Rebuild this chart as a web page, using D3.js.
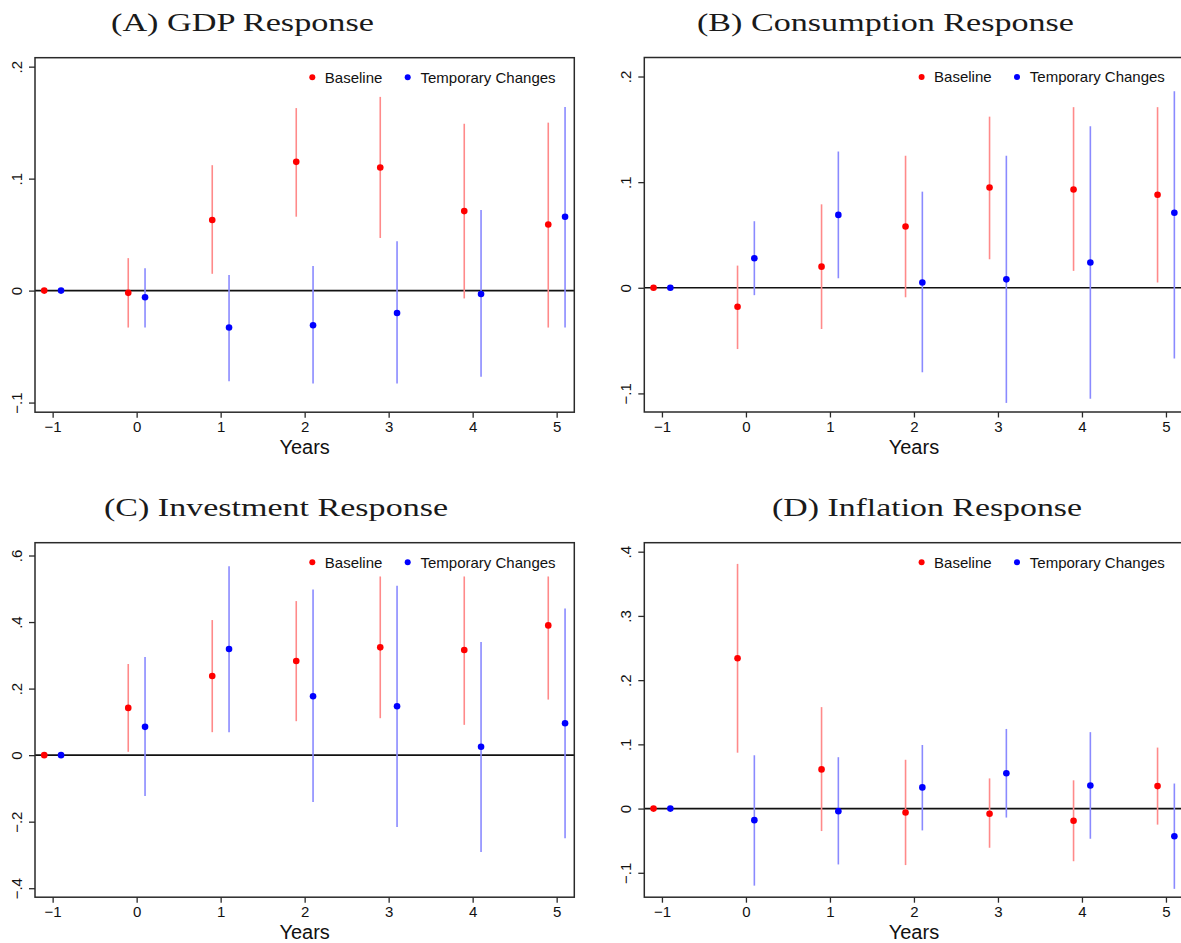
<!DOCTYPE html>
<html>
<head>
<meta charset="utf-8">
<script src="https://cdn.jsdelivr.net/npm/d3@7"></script>
<style>
  body { margin: 0; background: #fff; }
  svg { display: block; }
  text { font-family: "Liberation Sans", Arial, Helvetica, sans-serif; fill: #111; }
  .title { font-family: "Liberation Serif", "Times New Roman", serif; font-size: 26px; fill: #1a1a1a; }
</style>
</head>
<body>
<div id="wrapper"></div>
<script>
// each point is [estimate, lower, upper]
const years = [-1, 0, 1, 2, 3, 4, 5]
const seriesNames = ["Baseline", "Temporary Changes"]
const panelTitles = ["(A) GDP Response", "(B) Consumption Response", "(C) Investment Response", "(D) Inflation Response"]

const gdpBaseline = [[0, 0, 0], [-0.002, -0.033, 0.029], [0.063, 0.015, 0.112], [0.115, 0.066, 0.163], [0.110, 0.047, 0.173], [0.071, -0.007, 0.149], [0.059, -0.033, 0.150]]
const gdpTemporary = [[0, 0, 0], [-0.006, -0.033, 0.020], [-0.033, -0.081, 0.014], [-0.031, -0.083, 0.022], [-0.020, -0.083, 0.044], [-0.003, -0.077, 0.072], [0.066, -0.033, 0.164]]

const consBaseline = [[0, 0, 0], [-0.018, -0.058, 0.021], [0.020, -0.039, 0.079], [0.058, -0.009, 0.125], [0.095, 0.027, 0.162], [0.093, 0.016, 0.171], [0.088, 0.005, 0.171]]
const consTemporary = [[0, 0, 0], [0.028, -0.007, 0.063], [0.069, 0.009, 0.129], [0.005, -0.080, 0.091], [0.008, -0.109, 0.125], [0.024, -0.105, 0.153], [0.071, -0.067, 0.186]]

const invBaseline = [[0, 0, 0], [0.142, 0.010, 0.274], [0.238, 0.069, 0.406], [0.283, 0.102, 0.463], [0.324, 0.111, 0.537], [0.316, 0.091, 0.537], [0.390, 0.167, 0.537]]
const invTemporary = [[0, 0, 0], [0.085, -0.123, 0.295], [0.319, 0.069, 0.568], [0.177, -0.141, 0.498], [0.147, -0.216, 0.509], [0.025, -0.291, 0.340], [0.096, -0.250, 0.441]]

const inflBaseline = [[0, 0, 0], [0.234, 0.087, 0.381], [0.061, -0.035, 0.158], [-0.006, -0.088, 0.076], [-0.008, -0.061, 0.047], [-0.019, -0.082, 0.044], [0.035, -0.025, 0.095]]
const inflTemporary = [[0, 0, 0], [-0.018, -0.120, 0.083], [-0.004, -0.087, 0.080], [0.033, -0.034, 0.099], [0.055, -0.014, 0.124], [0.036, -0.047, 0.119], [-0.043, -0.125, 0.039]]

const gdpTicks = [-0.1, 0, 0.1, 0.2]
const consTicks = [-0.1, 0, 0.1, 0.2]
const invTicks = [-0.4, -0.2, 0, 0.2, 0.4, 0.6]
const inflTicks = [-0.1, 0, 0.1, 0.2, 0.3, 0.4]

const gdpRange = [-0.1086, 0.208]
const consRange = [-0.1176, 0.218]
const invRange = [-0.427, 0.6385]
const inflRange = [-0.138, 0.414]

function drawChart() {
  const width = 1181
  const height = 943
  const frame = { width: 539.3, height: 354.5 }
  const offset = 0.1  // horizontal dodge of the two series

  const panels = [
    { title: panelTitles[0], base: gdpBaseline, temp: gdpTemporary, ticks: gdpTicks, range: gdpRange,
      left: 35, top: 57.7, titleX: 111, titleY: 31, titleW: 263 },
    { title: panelTitles[1], base: consBaseline, temp: consTemporary, ticks: consTicks, range: consRange,
      left: 644.3, top: 57.5, titleX: 697, titleY: 31, titleW: 377 },
    { title: panelTitles[2], base: invBaseline, temp: invTemporary, ticks: invTicks, range: invRange,
      left: 35, top: 542.7, titleX: 104, titleY: 516, titleW: 344 },
    { title: panelTitles[3], base: inflBaseline, temp: inflTemporary, ticks: inflTicks, range: inflRange,
      left: 644.3, top: 542.7, titleX: 772, titleY: 516, titleW: 310 },
  ]

  const colors = { base: "#ff0000", temp: "#0000ff", baseCi: "#ff8a8a", tempCi: "#8a8aff" }
  const fmtTick = d => d === 0 ? "0" : d3.format(".1f")(d).replace("0.", ".")

  const svg = d3.select("#wrapper")
    .append("svg")
      .attr("width", width)
      .attr("height", height)

  panels.forEach(p => {
    const xScale = d3.scaleLinear()
      .domain([-1.21, 5.21])
      .range([0, frame.width])
    const yScale = d3.scaleLinear()
      .domain(p.range)
      .range([frame.height, 0])

    // title
    svg.append("text")
      .attr("class", "title")
      .attr("x", p.titleX)
      .attr("y", p.titleY)
      .attr("textLength", p.titleW)
      .attr("lengthAdjust", "spacingAndGlyphs")
      .text(p.title)

    const g = svg.append("g")
      .attr("transform", `translate(${p.left},${p.top})`)

    // zero line
    g.append("line")
      .attr("x1", 0).attr("x2", frame.width)
      .attr("y1", yScale(0)).attr("y2", yScale(0))
      .attr("stroke", "#111")
      .attr("stroke-width", 1.6)

    // confidence intervals + points
    const series = [
      { data: p.base, dx: -offset, ci: colors.baseCi, dot: colors.base },
      { data: p.temp, dx: offset, ci: colors.tempCi, dot: colors.temp },
    ]
    series.forEach(s => {
      g.selectAll(null)
        .data(s.data)
        .join("line")
          .attr("x1", (d, i) => xScale(years[i] + s.dx))
          .attr("x2", (d, i) => xScale(years[i] + s.dx))
          .attr("y1", d => yScale(d[1]))
          .attr("y2", d => yScale(d[2]))
          .attr("stroke", s.ci)
          .attr("stroke-width", 1.6)
    })
    series.forEach(s => {
      g.selectAll(null)
        .data(s.data)
        .join("circle")
          .attr("cx", (d, i) => xScale(years[i] + s.dx))
          .attr("cy", d => yScale(d[0]))
          .attr("r", 3.3)
          .attr("fill", s.dot)
    })

    // frame
    g.append("rect")
      .attr("width", frame.width)
      .attr("height", frame.height)
      .attr("fill", "none")
      .attr("stroke", "#2a2a2a")
      .attr("stroke-width", 1.5)

    // x axis
    const xAxis = g.append("g")
      .attr("transform", `translate(0,${frame.height})`)
      .call(d3.axisBottom(xScale).tickValues(years).tickSize(5.5).tickSizeOuter(0).tickFormat(d3.format("d")))
    xAxis.select(".domain").remove()
    xAxis.selectAll("line").attr("stroke", "#2a2a2a").attr("stroke-width", 1.3)
    xAxis.selectAll("text")
      .attr("y", 9)
      .attr("dy", "0.71em")
      .style("font-size", "15px")
      .style("font-family", '"Liberation Sans", Arial, sans-serif')
      .attr("fill", "#111")

    // y axis
    const yAxis = g.append("g")
      .call(d3.axisLeft(yScale).tickValues(p.ticks).tickSize(6).tickSizeOuter(0).tickFormat(fmtTick))
    yAxis.select(".domain").remove()
    yAxis.selectAll("line").attr("stroke", "#2a2a2a").attr("stroke-width", 1.3)
    yAxis.selectAll("text")
      .attr("x", null).attr("dy", null)
      .attr("text-anchor", "middle")
      .attr("transform", "translate(-13,0) rotate(-90)")
      .style("font-size", "15px")
      .style("font-family", '"Liberation Sans", Arial, sans-serif')
      .attr("fill", "#111")

    // x label
    g.append("text")
      .attr("x", frame.width / 2)
      .attr("y", frame.height + 42)
      .attr("text-anchor", "middle")
      .style("font-size", "20px")
      .text("Years")

    // legend
    const legend = g.append("g")
      .attr("transform", `translate(${frame.width},19.5)`)
    const legendItems = [
      { name: seriesNames[0], color: colors.base, dotX: -262, textX: -249.5 },
      { name: seriesNames[1], color: colors.temp, dotX: -166.6, textX: -153.8 },
    ]
    legendItems.forEach(item => {
      legend.append("circle")
        .attr("cx", item.dotX)
        .attr("cy", 0)
        .attr("r", 3)
        .attr("fill", item.color)
      legend.append("text")
        .attr("x", item.textX)
        .attr("y", 5.3)
        .style("font-size", "15px")
        .text(item.name)
    })
  })
}
drawChart()
</script>
</body>
</html>
